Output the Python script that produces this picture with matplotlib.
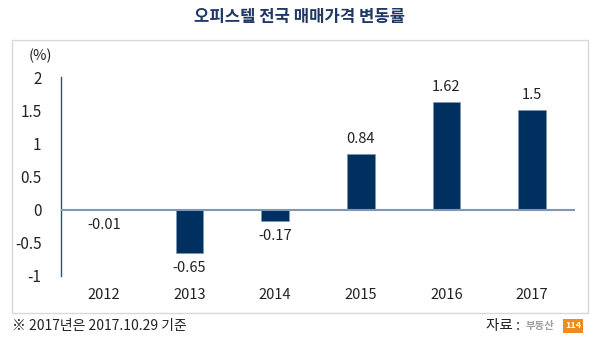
import matplotlib

matplotlib.use("Agg")
import matplotlib.pyplot as plt
from matplotlib.patches import Rectangle

plt.rcParams["font.family"] = ["Noto Sans CJK KR", "DejaVu Sans"]

# Data
years = ["2012", "2013", "2014", "2015", "2016", "2017"]
change = [-0.01, -0.65, -0.17, 0.84, 1.62, 1.5]
value_labels = ["-0.01", "-0.65", "-0.17", "0.84", "1.62", "1.5"]
yticks = [2, 1.5, 1, 0.5, 0, -0.5, -1]
ytick_labels = ["2", "1.5", "1", "0.5", "0", "-0.5", "-1"]

NAVY = "#00305f"
W, H = 600, 347

fig = plt.figure(figsize=(6, 3.47), dpi=100)
fig.patch.set_facecolor("white")

# outer frame
fig.patches.append(Rectangle((12 / W, 1 - 313 / H), 576 / W, 273 / H,
                             transform=fig.transFigure, fill=False,
                             edgecolor="#d9d9d9", lw=1))

ax = fig.add_axes([61 / W, 1 - 276 / H, 514 / W, 199 / H])
x = list(range(len(years)))
ax.bar(x, change, width=0.32, color=NAVY, edgecolor="#7f96b4", linewidth=0.5, zorder=3)
ax.axhline(0, color="#7f96b4", lw=1.5, zorder=4)
ax.set_xlim(-0.5, len(years) - 0.5)
ax.set_ylim(-1, 2)

for s in ["top", "right", "bottom"]:
    ax.spines[s].set_visible(False)
ax.spines["left"].set_color("#2f4f7f")
ax.spines["left"].set_linewidth(1)

ax.set_yticks(yticks)
ax.set_yticklabels(ytick_labels)
ax.tick_params(axis="y", length=0, pad=14, labelsize=11, labelcolor="#222222")
ax.set_xticks([])

for i, (v, lab) in enumerate(zip(change, value_labels)):
    if v >= 0:
        ax.text(i, v + 0.12, lab, ha="center", va="bottom", fontsize=10.5, color="#222222")
    else:
        ax.text(i, v - 0.12, lab, ha="center", va="top", fontsize=10.5, color="#222222")

for i, yr in enumerate(years):
    ax.text(i, -1.28, yr, ha="center", va="center", fontsize=10.5, color="#222222")

fig.text(40 / W, 1 - 56 / H, "(%)", ha="center", va="center", fontsize=10.5, color="#222222")
fig.text(300 / W, 1 - 17 / H, "오피스텔 전국 매매가격 변동률", ha="center", va="center",
         fontsize=12, fontweight="bold", color="#1f3864")
fig.text(12 / W, 1 - 326 / H, "※ 2017년은 2017.10.29 기준", ha="left", va="center",
         fontsize=10, color="#222222")
# source + logo
fig.text(520 / W, 1 - 326 / H, "자료 :", ha="right", va="center", fontsize=10.5, color="#222222")
fig.text(526 / W, 1 - 326 / H, "부동산", ha="left", va="center", fontsize=7.5,
         color="#a0a0a0", fontweight="bold")
fig.text(573 / W, 1 - 326 / H, "114", ha="center", va="center", fontsize=6.5,
         color="white", fontweight="bold",
         bbox=dict(boxstyle="square,pad=0.25", facecolor="#f08c1e", edgecolor="none"))

fig.savefig("out.png", dpi=100, facecolor="white")
